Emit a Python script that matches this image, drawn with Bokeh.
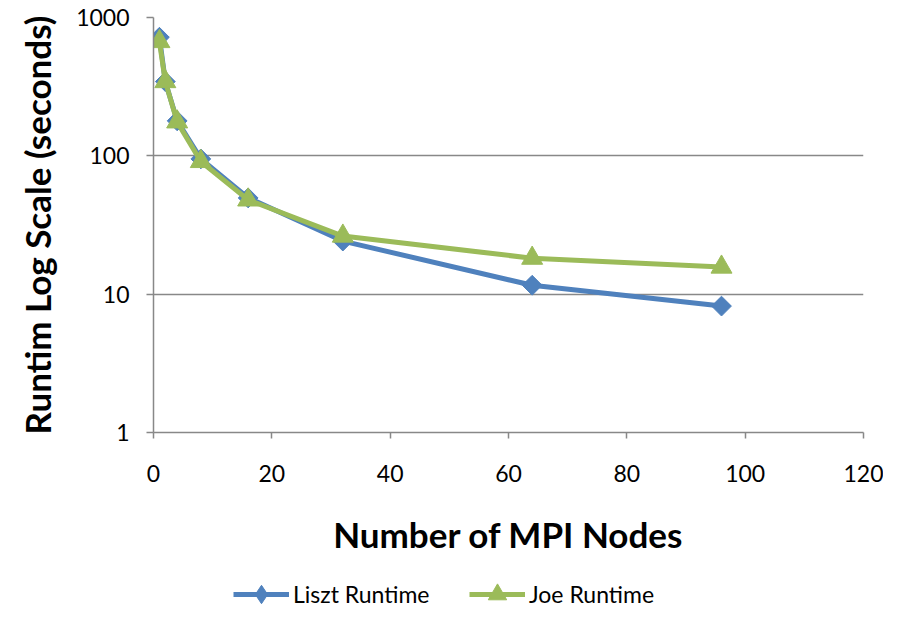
import numpy as np
from bokeh.plotting import figure
from bokeh.layouts import column
from bokeh.models import FixedTicker, BasicTickFormatter, Legend, LegendItem, ColumnDataSource
from bokeh.embed import file_html
from bokeh.resources import INLINE

# ---- data ----
nodes = [1, 2, 4, 8, 16, 32, 64, 96]
liszt_runtime = [720, 344, 179, 95, 49.6, 24.2, 11.6, 8.2]
joe_runtime = [670, 344, 176, 91, 48, 26.3, 18.2, 15.7]
x_ticks = [0, 20, 40, 60, 80, 100, 120]
y_ticks = [1, 10, 100, 1000]
series_names = ["Liszt Runtime", "Joe Runtime"]
x_title = "Number of MPI Nodes"
y_title = "Runtim Log Scale (seconds)"

BLUE = "#4F81BD"
GREEN = "#9BBB59"
GRAY = "#888888"
FONT = "Lato"

W, H_MAIN, H_LEG = 883, 566, 42

p = figure(width=W, height=H_MAIN, output_backend="svg", toolbar_location=None,
           x_range=(0, 120), y_range=(1, 1000), y_axis_type="log",
           min_border_left=153, min_border_right=20, min_border_top=17,
           min_border_bottom=H_MAIN - 432)
p.outline_line_color = None
p.background_fill_color = "white"
p.border_fill_color = "white"

# axes
p.xaxis.ticker = FixedTicker(ticks=x_ticks)
p.yaxis.ticker = FixedTicker(ticks=y_ticks)
p.yaxis.formatter = BasicTickFormatter(use_scientific=False)
for ax in (p.xaxis[0], p.yaxis[0]):
    ax.axis_line_color = GRAY
    ax.axis_line_width = 1.5
    ax.major_tick_line_color = GRAY
    ax.major_tick_line_width = 1.5
    ax.major_tick_in = 0
    ax.minor_tick_line_color = None
    ax.major_label_text_font = FONT
    ax.major_label_text_font_size = "23px"
    ax.major_label_text_color = "black"
    ax.axis_label_text_font = FONT
    ax.axis_label_text_font_style = "bold"
    ax.axis_label_text_font_size = "35px"
    ax.axis_label_text_color = "black"
p.xaxis.major_tick_out = 6
p.yaxis.major_tick_out = 7
p.xaxis.major_label_standoff = 26
p.xaxis.axis_label_standoff = 28
p.yaxis.major_label_standoff = 17
p.yaxis.axis_label_standoff = 15
p.xaxis.axis_label = x_title
p.yaxis.axis_label = y_title

# grid
p.xgrid.grid_line_color = None
p.ygrid.ticker = FixedTicker(ticks=y_ticks)
p.ygrid.grid_line_color = GRAY
p.ygrid.grid_line_width = 1.5
p.ygrid.minor_grid_line_color = None

src_l = ColumnDataSource(dict(x=nodes, y=liszt_runtime))
src_j = ColumnDataSource(dict(x=nodes, y=joe_runtime))


def add_series(fig, blue_marker, blue_angle, blue_size, green_size):
    l1 = fig.line("x", "y", source=src_l, line_color=BLUE, line_width=5, line_join="round")
    m1 = fig.scatter("x", "y", source=src_l, marker=blue_marker, angle=blue_angle,
                     size=blue_size, fill_color=BLUE, line_color=BLUE)
    l2 = fig.line("x", "y", source=src_j, line_color=GREEN, line_width=5, line_join="round")
    m2 = fig.scatter("x", "y", source=src_j, marker="triangle", size=green_size,
                     fill_color=GREEN, line_color=GREEN)
    return l1, m1, l2, m2


add_series(p, "square", np.pi / 4, 14, 21)

# legend strip below the chart (series kept outside its visible ranges)
pl = figure(width=W, height=H_LEG, output_backend="svg", toolbar_location=None,
            x_range=(-20, -10), y_range=(-20, -10),
            x_axis_location=None, y_axis_location=None,
            min_border_left=0, min_border_right=0, min_border_top=0, min_border_bottom=0)
pl.outline_line_color = None
pl.xgrid.visible = False
pl.ygrid.visible = False
pl.background_fill_color = "white"
pl.border_fill_color = "white"
k1, n1, k2, n2 = add_series(pl, "diamond", 0, 14, 21)

legend = Legend(items=[LegendItem(label=series_names[0], renderers=[k1, n1]),
                       LegendItem(label=series_names[1], renderers=[k2, n2])],
                orientation="horizontal", location=(80, -9),
                glyph_width=56, glyph_height=46, label_height=46, label_width=140,
                label_standoff=4, spacing=36, padding=0, margin=0,
                border_line_color=None, background_fill_alpha=0,
                label_text_font=FONT, label_text_font_size="23px",
                label_text_color="black")
pl.add_layout(legend, "center")

layout = column(p, pl, spacing=0)
open("out.html", "w").write(file_html(layout, INLINE))
